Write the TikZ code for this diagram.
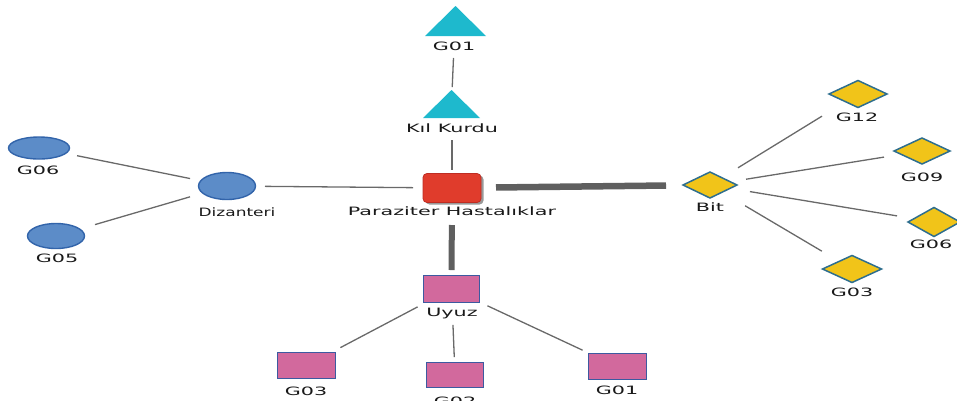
\documentclass[tikz,border=0pt]{standalone}
\usepackage{fontspec}
\setmainfont{DejaVu Sans}[FakeStretch=1.8]
\usetikzlibrary{calc,shapes.geometric,shadows}
\definecolor{tricol}{RGB}{30,185,205}
\definecolor{ellfill}{RGB}{92,140,200}
\definecolor{elldraw}{RGB}{50,100,170}
\definecolor{redfill}{RGB}{224,60,44}
\definecolor{reddraw}{RGB}{190,45,35}
\definecolor{diafill}{RGB}{241,196,25}
\definecolor{diadraw}{RGB}{46,110,142}
\definecolor{recfill}{RGB}{210,105,157}
\definecolor{recdraw}{RGB}{60,90,160}
\definecolor{linecol}{RGB}{105,105,105}
\definecolor{thickcol}{RGB}{95,95,95}
\definecolor{txtcol}{RGB}{25,25,25}
\begin{document}
\begin{tikzpicture}[x=1pt,y=-1pt,
  every node/.style={inner sep=0pt,outer sep=0pt},
  lbl/.style={text=txtcol,font=\fontsize{11.5}{13}\selectfont,text height=8.5pt,text depth=0pt},
  ell/.style={ellipse,fill=ellfill,draw=elldraw,line width=1.4pt},
  dia/.style={diamond,fill=diafill,draw=diadraw,line width=1.5pt},
  rec/.style={rectangle,fill=recfill,draw=recdraw,line width=1.6pt},
  thin line/.style={draw=linecol,line width=1.3pt},
  thick line/.style={draw=thickcol,line width=6.5pt}
]
\useasboundingbox (0,0) rectangle (957,400);

% triangles
\node[minimum width=61pt,minimum height=30pt] (tG) at (455.5,21) {};
\fill[tricol] (tG.south west) -- (tG.south east) -- (tG.north) -- cycle;
\node[lbl] (tGl) at (454,46) {G01};
\node[minimum width=57pt,minimum height=28pt] (tK) at (451.5,104) {};
\fill[tricol] (tK.south west) -- (tK.south east) -- (tK.north) -- cycle;
\node[lbl] (tKl) at (452,128) {Kıl Kurdu};

% centre
\node[rectangle,rounded corners=4pt,fill=redfill,draw=reddraw,line width=0.8pt,
  minimum width=58pt,minimum height=29pt,
  drop shadow={shadow xshift=2.5pt,shadow yshift=-2pt,fill=gray,opacity=0.8}] (P) at (452,188) {};
\node[lbl] (Pl) at (452,211) {Paraziter Hastalıklar};

% Dizanteri group
\node[ell,minimum width=57pt,minimum height=27pt] (D) at (227,186) {};
\node[lbl] (Dl) at (237,212) {\scalebox{0.82}[1]{Dizanteri}};
\node[ell,minimum width=61pt,minimum height=22pt] (E6) at (39,148) {};
\node[lbl] (E6l) at (38,170) {G06};
\node[ell,minimum width=57pt,minimum height=25pt] (E5) at (56,236) {};
\node[lbl] (E5l) at (57,258) {G05};

% Bit group
\node[dia,minimum width=54pt,minimum height=26pt] (B) at (710,185) {};
\node[lbl] (Bl) at (710,207) {Bit};
\node[dia,minimum width=58pt,minimum height=27pt] (G12) at (858,94) {};
\node[lbl] (G12l) at (857,117) {G12};
\node[dia,minimum width=56pt,minimum height=26pt] (G09) at (922,151) {};
\node[lbl] (G09l) at (922,177) {G09};
\node[dia,minimum width=52pt,minimum height=29pt] (G06r) at (934,222) {};
\node[lbl] (G06rl) at (931,244) {G06};
\node[dia,minimum width=59pt,minimum height=27pt] (G03r) at (852,269) {};
\node[lbl] (G03rl) at (852,292) {G03};

% Uyuz group
\node[rec,minimum width=56pt,minimum height=27pt] (U) at (451.5,289) {};
\node[lbl] (Ul) at (452,312) {Uyuz};
\node[rec,minimum width=58pt,minimum height=26pt] (G03b) at (306.5,365.5) {};
\node[lbl] (G03bl) at (306,391) {G03};
\node[rec,minimum width=57pt,minimum height=25pt] (G02b) at (455,375) {};
\node[lbl] (G02bl) at (455,401) {G02};
\node[rec,minimum width=58pt,minimum height=26pt] (G01b) at (617.5,366.5) {};
\node[lbl] (G01bl) at (617,390) {G01};

% connectors
\draw[thin line] ($(tGl)!12pt!(tK)$) -- ($(tK)!17pt!(tGl)$);
\draw[thin line] ($(tKl)!12pt!(P)$) -- ($(P)!18pt!(tKl)$);
\draw[thin line] ($(D)!38pt!(P)$) -- ($(P)!39pt!(D)$);
\draw[thin line] ($(E6)!38.8pt!(D)$) -- ($(D)!37.7pt!(E6)$);
\draw[thin line] ($(E5)!40.6pt!(D)$) -- ($(D)!38.5pt!(E5)$);
\draw[thick line] ($(P)!44pt!(B)$) -- ($(B)!44pt!(P)$);
\draw[thin line] ($(B)!32.9pt!(G12)$) -- ($(G12)!42.3pt!(B)$);
\draw[thin line] ($(B)!36.5pt!(G09)$) -- ($(G09)!38.5pt!(B)$);
\draw[thin line] ($(B)!40.5pt!(G06r)$) -- ($(G06r)!37.5pt!(B)$);
\draw[thin line] ($(B)!40.8pt!(G03r)$) -- ($(G03r)!35pt!(B)$);
\draw[thick line,line width=6pt] ($(P)!37pt!(U)$) -- ($(U)!19pt!(P)$);
\draw[thin line] ($(U)!38.3pt!(G03b)$) -- ($(G03b)!38.3pt!(U)$);
\draw[thin line] ($(U)!36pt!(G02b)$) -- ($(G02b)!18pt!(U)$);
\draw[thin line] ($(U)!39.7pt!(G01b)$) -- ($(G01b)!38.6pt!(U)$);
\end{tikzpicture}
\end{document}
